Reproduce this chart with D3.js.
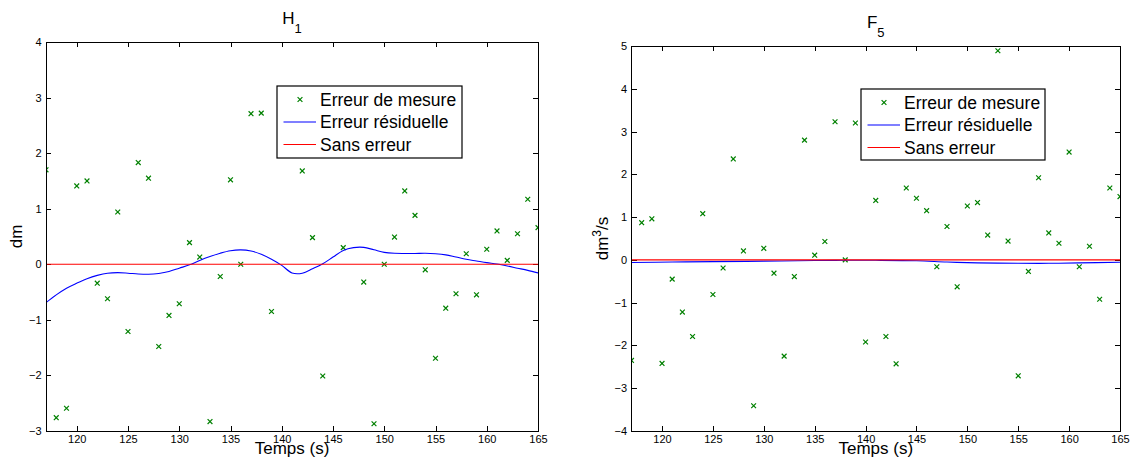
<!DOCTYPE html>
<html>
<head>
<meta charset="utf-8">
<script src="https://cdn.jsdelivr.net/npm/d3@7/dist/d3.min.js"></script>
<style>
  html, body { margin: 0; padding: 0; background: #fff; }
  svg { display: block; font-family: "Liberation Sans", Arial, Helvetica, sans-serif; }
  .axis text { font-size: 11px; fill: #000; }
  .axis line, .axis path { stroke: #000; }
</style>
</head>
<body>
<svg id="chart" width="1130" height="466"></svg>
<script>
// ---- Time ticks shared by both panels ----
const timeTicks = [120, 125, 130, 135, 140, 145, 150, 155, 160, 165];
const legendLabels = ["Erreur de mesure", "Erreur résiduelle", "Sans erreur"];

// ---- H1 (water level, dm) ----
const h1MesureT = [117,118,119,120,121,122,123,124,125,126,127,128,129,130,131,132,133,134,135,136,137,138,139,
                   142,143,144,146,148,149,150,151,152,153,154,155,156,157,158,159,160,161,162,163,164,165];
const h1Mesure  = [1.70,-2.76,-2.59,1.41,1.50,-0.34,-0.62,0.94,-1.21,1.83,1.55,-1.48,-0.92,-0.71,0.39,0.13,-2.83,-0.22,1.52,0.00,2.71,2.72,-0.85,
                   1.68,0.48,-2.01,0.30,-0.32,-2.87,0.00,0.49,1.32,0.88,-0.10,-1.69,-0.79,-0.53,0.19,-0.55,0.27,0.60,0.07,0.55,1.17,0.66];
const h1ResidT = [117,118,119,120,121,122,123,124,125,126,127,128,129,130,131,132,133,134,135,136,137,138,139,140,
                  141,142,143,144,145,146,147,148,149,150,151,152,153,154,155,156,157,158,159,160,161,162,163,164,165];
const h1Resid  = [-0.69,-0.55,-0.43,-0.34,-0.26,-0.20,-0.16,-0.15,-0.16,-0.175,-0.18,-0.165,-0.13,-0.07,-0.01,0.07,0.14,0.20,0.245,0.26,0.24,0.18,0.09,-0.02,
                  -0.155,-0.16,-0.08,0.01,0.13,0.25,0.30,0.305,0.26,0.215,0.198,0.195,0.195,0.198,0.19,0.17,0.13,0.09,0.06,0.03,0.005,-0.03,-0.07,-0.11,-0.155];
const h1YTicks = [-3, -2, -1, 0, 1, 2, 3, 4];

// ---- F5 (flow, dm3/s) ----
const f5MesureT = [117,118,119,120,121,122,123,124,125,126,127,128,129,130,131,132,133,134,135,136,137,138,139,140,141,
                   142,143,144,145,146,147,148,149,150,151,152,153,154,155,156,157,158,159,160,161,162,163,164,165];
const f5Mesure  = [-2.35,0.87,0.96,-2.42,-0.45,-1.22,-1.79,1.08,-0.81,-0.19,2.36,0.21,-3.41,0.27,-0.31,-2.25,-0.39,2.80,0.11,0.43,3.23,0.00,3.20,-1.92,1.39,
                   -1.79,-2.43,1.68,1.44,1.15,-0.16,0.78,-0.63,1.26,1.34,0.58,4.89,0.44,-2.71,-0.27,1.92,0.63,0.39,2.52,-0.16,0.32,-0.92,1.68,1.48];
const f5ResidT = [117,121,125,130,135,138,141,145,148,151,155,158,161,165];
const f5Resid  = [-0.06,-0.05,-0.04,-0.03,-0.015,-0.01,-0.01,-0.02,-0.05,-0.07,-0.08,-0.08,-0.07,-0.055];
const f5YTicks = [-4, -3, -2, -1, 0, 1, 2, 3, 4, 5];

// reference line (no error)
const refT = [117, 165];
const refV = [0, 0];

const svg = d3.select("#chart");
const fmt = v => (v < 0 ? "\u2212" + Math.abs(v) : String(v));

function panel(opt) {
  const { x0, x1, y0, y1 } = opt;
  const x = d3.scaleLinear().domain([117, 165]).range([x0, x1]);
  const y = d3.scaleLinear().domain(opt.yDomain).range([y1, y0]);
  const g = svg.append("g");

  const clipId = "clip-" + opt.id;
  g.append("clipPath").attr("id", clipId)
    .append("rect").attr("x", x0).attr("y", y0).attr("width", x1 - x0).attr("height", y1 - y0);

  // axes with inward ticks on all four sides
  g.append("g").attr("class", "axis").attr("transform", `translate(0,${y1})`)
    .call(d3.axisBottom(x).tickValues(timeTicks).tickSize(-5).tickPadding(4.5).tickFormat(fmt))
    .call(a => a.select(".domain").remove());
  g.append("g").attr("class", "axis").attr("transform", `translate(0,${y0})`)
    .call(d3.axisTop(x).tickValues(timeTicks).tickSize(-5).tickFormat(""))
    .call(a => a.select(".domain").remove());
  g.append("g").attr("class", "axis").attr("transform", `translate(${x0},0)`)
    .call(d3.axisLeft(y).tickValues(opt.yTicks).tickSize(-5).tickPadding(4.5).tickFormat(fmt))
    .call(a => a.select(".domain").remove());
  g.append("g").attr("class", "axis").attr("transform", `translate(${x1},0)`)
    .call(d3.axisRight(y).tickValues(opt.yTicks).tickSize(-5).tickFormat(""))
    .call(a => a.select(".domain").remove());
  g.selectAll(".axis line").attr("shape-rendering", "crispEdges");

  const plot = g.append("g").attr("clip-path", `url(#${clipId})`);

  // measured points as crosses
  const pts = opt.mT.map((t, i) => [t, opt.mV[i]]);
  const s = 2.4;
  plot.append("g").selectAll("path").data(pts).join("path")
    .attr("d", d => {
      const px = x(d[0]), py = y(d[1]);
      return `M${px - s},${py - s}L${px + s},${py + s}M${px - s},${py + s}L${px + s},${py - s}`;
    })
    .attr("stroke", "#008000").attr("stroke-width", 1.2).attr("fill", "none");

  const line = d3.line().x(d => x(d[0])).y(d => y(d[1]));

  // residual error curve
  plot.append("path")
    .attr("d", line.curve(d3.curveCatmullRom)(opt.rT.map((t, i) => [t, opt.rV[i]])))
    .attr("stroke", "#0000ff").attr("stroke-width", 1.1).attr("fill", "none");

  // no-error reference
  plot.append("path")
    .attr("d", line.curve(d3.curveLinear)(refT.map((t, i) => [t, refV[i]])))
    .attr("stroke", "#ff0000").attr("stroke-width", 1.1).attr("fill", "none");

  // frame
  g.append("rect").attr("x", x0).attr("y", y0).attr("width", x1 - x0).attr("height", y1 - y0)
    .attr("fill", "none").attr("stroke", "#000").attr("stroke-width", 1).attr("shape-rendering", "crispEdges");

  // title with subscript
  const cx = (x0 + x1) / 2;
  const title = g.append("text").attr("x", cx).attr("y", y0 - 18).attr("text-anchor", "middle")
    .attr("font-size", 17);
  title.append("tspan").text(opt.title[0]);
  title.append("tspan").attr("dy", 8.5).attr("font-size", 13).text(opt.title[1]);

  // x label
  g.append("text").attr("x", cx).attr("y", y1 + 22.5).attr("text-anchor", "middle")
    .attr("font-size", 17).text("Temps (s)");

  // y label
  const yl = g.append("text")
    .attr("transform", `translate(${opt.ylx},${(y0 + y1) / 2}) rotate(-90)`)
    .attr("text-anchor", "middle").attr("font-size", 17);
  opt.ylabel(yl);

  // legend
  const L = opt.legend;
  g.append("rect").attr("x", L.x).attr("y", L.y).attr("width", L.w).attr("height", L.h)
    .attr("fill", "#fff").attr("stroke", "#000").attr("stroke-width", 1.2);
  const rowY = i => L.y + 13.5 + i * 22.5;
  const mx = L.x + 23, my = rowY(0);
  g.append("path")
    .attr("d", `M${mx - s},${my - s}L${mx + s},${my + s}M${mx - s},${my + s}L${mx + s},${my - s}`)
    .attr("stroke", "#008000").attr("stroke-width", 1.2);
  [["#0000ff", 1], ["#ff0000", 2]].forEach(([c, i]) => {
    g.append("line").attr("x1", L.x + 6.5).attr("x2", L.x + 39).attr("y1", rowY(i)).attr("y2", rowY(i))
      .attr("stroke", c).attr("stroke-width", 1.1);
  });
  legendLabels.forEach((lab, i) => {
    g.append("text").attr("x", L.x + 43).attr("y", rowY(i) + 6).attr("font-size", 17.5).text(lab);
  });
}

panel({
  id: "h1", x0: 46, x1: 538, y0: 42, y1: 431, yDomain: [-3, 4], yTicks: h1YTicks,
  mT: h1MesureT, mV: h1Mesure, rT: h1ResidT, rV: h1Resid,
  title: ["H", "1"], ylx: 22,
  ylabel: t => t.text("dm"),
  legend: { x: 277, y: 86, w: 185, h: 72 }
});

panel({
  id: "f5", x0: 631.5, x1: 1120, y0: 46, y1: 431, yDomain: [-4, 5], yTicks: f5YTicks,
  mT: f5MesureT, mV: f5Mesure, rT: f5ResidT, rV: f5Resid,
  title: ["F", "5"], ylx: 608,
  ylabel: t => {
    t.append("tspan").text("dm");
    t.append("tspan").attr("dy", -7).attr("font-size", 12).text("3");
    t.append("tspan").attr("dy", 7).text("/s");
  },
  legend: { x: 861, y: 89, w: 184, h: 71 }
});
</script>
</body>
</html>
